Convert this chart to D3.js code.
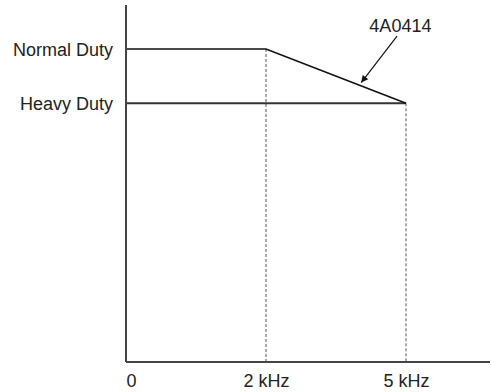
<!DOCTYPE html>
<html>
<head>
<meta charset="utf-8">
<script src="https://cdn.jsdelivr.net/npm/d3@7"></script>
<style>
  html, body { margin: 0; padding: 0; background: #fff; }
  svg { display: block; }
  text { font-family: Arial, "Liberation Sans", Helvetica, sans-serif; font-size: 18px; fill: #222; }
</style>
</head>
<body>
<svg id="chart" width="491" height="392"></svg>
<script>
// Carrier frequency steps (schematic positions) and their labels
const freqSteps = [0, 1, 2];
const freqLabels = ["0", "2 kHz", "5 kHz"];

// Rated current levels (% of Heavy Duty rating)
const dutyNames = ["Normal Duty", "Heavy Duty"];
const dutyLevels = [121, 100];

// Derating curve: Normal Duty up to 2 kHz, falling to Heavy Duty at 5 kHz
const curveFreq = [0, 1, 2];
const curveLevel = [121, 121, 100];

// Model annotation
const modelName = "4A0414";
const labelAt = [1.96, 127.6];   // label baseline position (freq step, level)
const arrowFrom = [1.936, 126];
const arrowTo = [1.68, 108];

const svg = d3.select("#chart");

const x = d3.scaleLinear().domain([0, 2.6]).range([126, 490]);
const y = d3.scaleLinear().domain([0, 138]).range([362, 5]);

// Arrowhead marker
svg.append("defs").append("marker")
  .attr("id", "arrowhead")
  .attr("viewBox", "0 0 10 10")
  .attr("refX", 10).attr("refY", 5)
  .attr("markerWidth", 9).attr("markerHeight", 7)
  .attr("markerUnits", "userSpaceOnUse")
  .attr("orient", "auto")
  .append("path")
  .attr("d", "M0,0 L10,5 L0,10 Z")
  .attr("fill", "#111");

// Dashed guides from curve corners down to the axis
const corners = curveFreq.map((f, i) => ({ f, v: curveLevel[i] })).filter(d => d.f > 0);
svg.selectAll(".guide").data(corners).enter().append("line")
  .attr("class", "guide")
  .attr("x1", d => x(d.f)).attr("x2", d => x(d.f))
  .attr("y1", d => y(d.v)).attr("y2", y(0))
  .attr("stroke", "#555").attr("stroke-width", 1)
  .attr("stroke-dasharray", "3,2");

// Heavy Duty horizontal reference up to 5 kHz
svg.append("line")
  .attr("x1", x(0)).attr("x2", x(curveFreq[2]))
  .attr("y1", y(dutyLevels[1])).attr("y2", y(dutyLevels[1]))
  .attr("stroke", "#333").attr("stroke-width", 2);

// Derating curve
const line = d3.line().x(d => x(d[0])).y(d => y(d[1]));
svg.append("path")
  .datum(curveFreq.map((f, i) => [f, curveLevel[i]]))
  .attr("d", line)
  .attr("fill", "none")
  .attr("stroke", "#111")
  .attr("stroke-width", 1.6);

// Axes
const xAxis = d3.axisBottom(x).tickValues(freqSteps).tickSize(0)
  .tickFormat((d, i) => freqLabels[i]);
const gx = svg.append("g").attr("transform", `translate(0,${y(0)})`).call(xAxis);
gx.select(".domain").attr("d", `M${x(0)},0H${x.range()[1]}`)
  .attr("stroke", "#444").attr("stroke-width", 2);
gx.selectAll("text")
  .attr("y", 24.5).attr("dy", null)
  .attr("fill", "#222")
  .style("font-size", "18px")
  .style("font-family", "Arial, 'Liberation Sans', sans-serif")
  .attr("text-anchor", (d, i) => i === 0 ? "start" : "middle");

const yAxis = d3.axisLeft(y).tickValues(dutyLevels).tickSize(0)
  .tickFormat((d, i) => dutyNames[i]);
const gy = svg.append("g").attr("transform", `translate(${x(0)},0)`).call(yAxis);
gy.select(".domain").attr("d", `M0,${y.range()[1]}V${y(0)}`)
  .attr("stroke", "#444").attr("stroke-width", 2);
gy.selectAll("text")
  .attr("x", -13).attr("dy", "0.36em")
  .attr("fill", "#222")
  .style("font-size", "18px")
  .style("font-family", "Arial, 'Liberation Sans', sans-serif");

// Annotation
svg.append("text")
  .attr("x", x(labelAt[0])).attr("y", y(labelAt[1]))
  .attr("text-anchor", "middle")
  .text(modelName);
svg.append("line")
  .attr("x1", x(arrowFrom[0])).attr("y1", y(arrowFrom[1]))
  .attr("x2", x(arrowTo[0])).attr("y2", y(arrowTo[1]))
  .attr("stroke", "#111").attr("stroke-width", 1.2)
  .attr("marker-end", "url(#arrowhead)");
</script>
</body>
</html>
